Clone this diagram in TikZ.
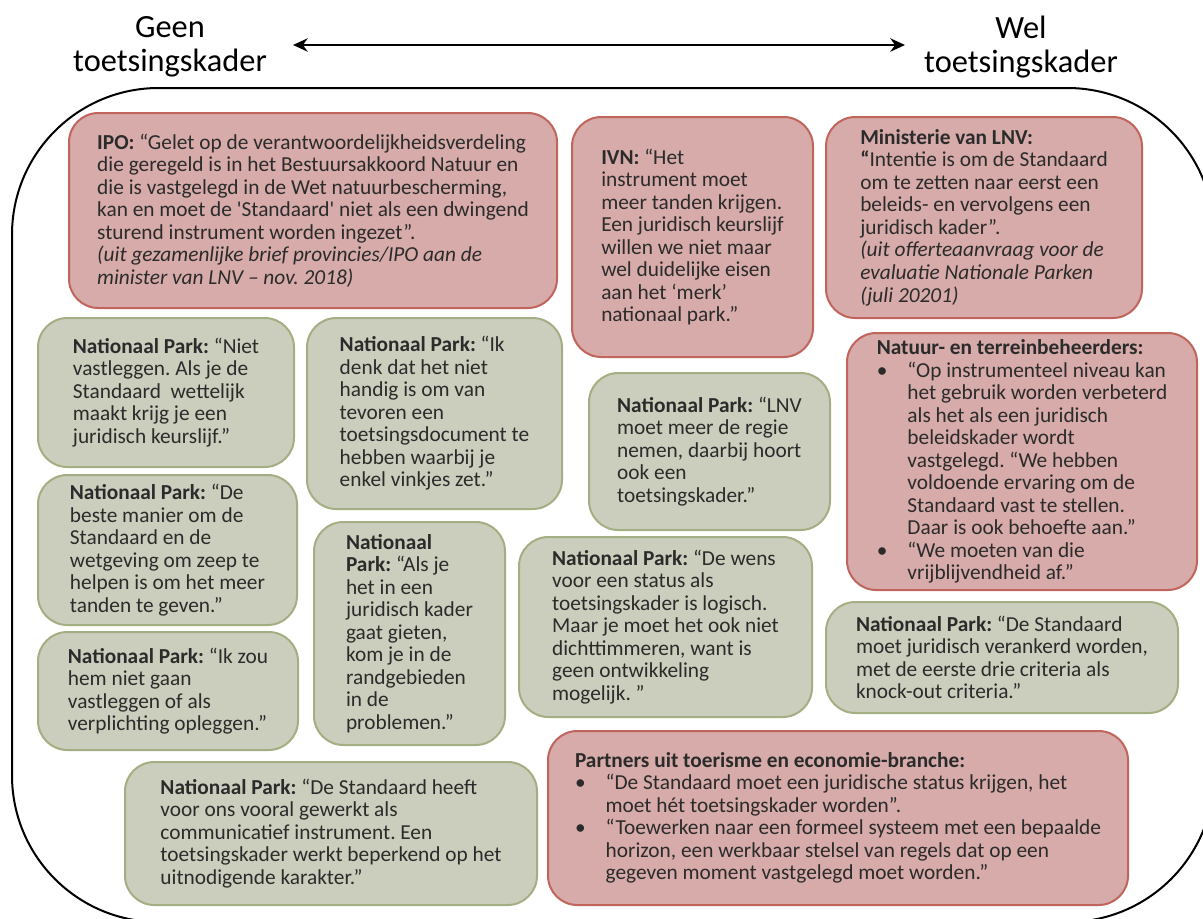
\documentclass[tikz,border=0pt]{standalone}
\usepackage{fontspec}
\setmainfont{Carlito}
\usepackage{tikz}
\usetikzlibrary{arrows.meta}
\frenchspacing

\definecolor{redfill}{HTML}{D6ABA9}
\definecolor{redline}{HTML}{C0645C}
\definecolor{greenfill}{HTML}{CBCEBD}
\definecolor{greenline}{HTML}{A4AE83}
\definecolor{quotetext}{HTML}{2B2B2B}

\newcommand{\bul}{\makebox[23pt][l]{\textbullet}}
\newcommand{\ind}{\hspace*{23pt}}

\begin{document}
\begin{tikzpicture}[x=0.75pt, y=-0.75pt,
    every node/.style={text=quotetext, font=\fontsize{16}{16.9}\selectfont},
    quote/.style={inner sep=0pt, rounded corners=22pt, line width=1.5pt, align=left},
    redbox/.style={quote, draw=redline, fill=redfill},
    greenbox/.style={quote, draw=greenline, fill=greenfill},
    axislabel/.style={text=black, align=center, font=\fontsize{24.3}{25.5}\selectfont}]
    \useasboundingbox (0,0) rectangle (1203,918);

    % schaal bovenaan
    \node[axislabel] (geen) at (170,47) {Geen\\toetsingskader};
    \node[axislabel] (wel) at (1021,47) {Wel\\toetsingskader};
    \coordinate (links) at (293,45);
    \coordinate (rechts) at (905,45);
    \draw[line width=1.8pt, {Stealth[length=11pt,width=10pt]}-{Stealth[length=11pt,width=10pt]}] (links) -- (rechts);

    % grote kader
    \draw[line width=1.5pt, rounded corners=110pt] (12,88) rectangle (1214,922);

    % rode kaders
    \node[redbox, minimum width=366pt, minimum height=146.25pt] (ipo) at (313,210.5) {\textbf{IPO:} “Gelet op de verantwoordelijkheidsverdeling\\
        die geregeld is in het Bestuursakkoord Natuur en\\
        die is vastgelegd in de Wet natuurbescherming,\\
        kan en moet de \textquotesingle Standaard\textquotesingle\ niet als een dwingend\\
        sturend instrument worden ingezet”.\\
        \textit{(uit gezamenlijke brief provincies/IPO aan de}\\
        \textit{minister van LNV – nov. 2018)}};
    \node[redbox, minimum width=180.75pt, minimum height=180pt] (ivn) at (692.5,237) {\textbf{IVN:} “Het\\
        instrument moet\\
        meer tanden krijgen.\\
        Een juridisch keurslijf\\
        willen we niet maar\\
        wel duidelijke eisen\\
        aan het ‘merk’\\
        nationaal park.”};
    \node[redbox, minimum width=237pt, minimum height=150.75pt] (ministerie) at (984,217.5) {\textbf{Ministerie van LNV:}\\
        \textbf{“}Intentie is om de Standaard\\
        om te zetten naar eerst een\\
        beleids- en vervolgens een\\
        juridisch kader”.\\
        \textit{(uit offerteaanvraag voor de}\\
        \textit{evaluatie Nationale Parken}\\
        \textit{(juli 20201)}};
    \node[redbox, minimum width=262.5pt, minimum height=192.75pt] (beheerders) at (1022,461.5) {\textbf{Natuur- en terreinbeheerders:}\\
        \bul “Op instrumenteel niveau kan\\
        \ind het gebruik worden verbeterd\\
        \ind als het als een juridisch\\
        \ind beleidskader wordt\\
        \ind vastgelegd. “We hebben\\
        \ind voldoende ervaring om de\\
        \ind Standaard vast te stellen.\\
        \ind Daar is ook behoefte aan.”\\
        \bul “We moeten van die\\
        \ind vrijblijvendheid af.”};
    \node[redbox, minimum width=435pt, minimum height=130.5pt] (partners) at (838,818) {\textbf{Partners uit toerisme en economie-branche:}\\
        \bul “De Standaard moet een juridische status krijgen, het\\
        \ind moet hét toetsingskader worden”.\\
        \bul “Toewerken naar een formeel systeem met een bepaalde\\
        \ind horizon, een werkbaar stelsel van regels dat op een\\
        \ind gegeven moment vastgelegd moet worden.”};

    % groene kaders (Nationale Parken)
    \node[greenbox, minimum width=192pt, minimum height=111.75pt] (np niet) at (166,392.5) {\textbf{Nationaal Park:} “Niet\\
        vastleggen. Als je de\\
        Standaard\ \ wettelijk\\
        maakt krijg je een\\
        juridisch keurslijf.”};
    \node[greenbox, minimum width=191.25pt, minimum height=143.25pt] (np vinkjes) at (434.5,413.5) {\textbf{Nationaal Park:} “Ik\\
        denk dat het niet\\
        handig is om van\\
        tevoren een\\
        toetsingsdocument te\\
        hebben waarbij je\\
        enkel vinkjes zet.”};
    \node[greenbox, minimum width=180.75pt, minimum height=117.75pt] (np regie) at (709.5,451.5) {\textbf{Nationaal Park:} “LNV\\
        moet meer de regie\\
        nemen, daarbij hoort\\
        ook een\\
        toetsingskader.”};
    \node[greenbox, minimum width=194.25pt, minimum height=112.5pt] (np zeep) at (167.5,550) {\textbf{Nationaal Park:} “De\\
        beste manier om de\\
        Standaard en de\\
        wetgeving om zeep te\\
        helpen is om het meer\\
        tanden te geven.”};
    \node[greenbox, minimum width=143.25pt, minimum height=167.25pt] (np gieten) at (409.5,633.5) {\textbf{Nationaal}\\
        \textbf{Park:} “Als je\\
        het in een\\
        juridisch kader\\
        gaat gieten,\\
        kom je in de\\
        randgebieden\\
        in de\\
        problemen.”};
    \node[greenbox, minimum width=219.75pt, minimum height=135pt] (np wens) at (665.5,627) {\textbf{Nationaal Park:} “De wens\\
        voor een status als\\
        toetsingskader is logisch.\\
        Maar je moet het ook niet\\
        dichttimmeren, want is\\
        geen ontwikkeling\\
        mogelijk. ”};
    \node[greenbox, minimum width=195pt, minimum height=88.5pt] (np verplicht) at (168,691) {\textbf{Nationaal Park:} “Ik zou\\
        hem niet gaan\\
        vastleggen of als\\
        verplichting opleggen.”};
    \node[greenbox, minimum width=264pt, minimum height=83.25pt] (np verankerd) at (1002,657.5) {\textbf{Nationaal Park:} “De Standaard\\
        moet juridisch verankerd worden,\\
        met de eerste drie criteria als\\
        knock-out criteria.”};
    \node[greenbox, minimum width=309pt, minimum height=107.25pt] (np communicatief) at (331,833.5) {\textbf{Nationaal Park:} “De Standaard heeft\\
        voor ons vooral gewerkt als\\
        communicatief instrument. Een\\
        toetsingskader werkt beperkend op het\\
        uitnodigende karakter.”};
\end{tikzpicture}
\end{document}
